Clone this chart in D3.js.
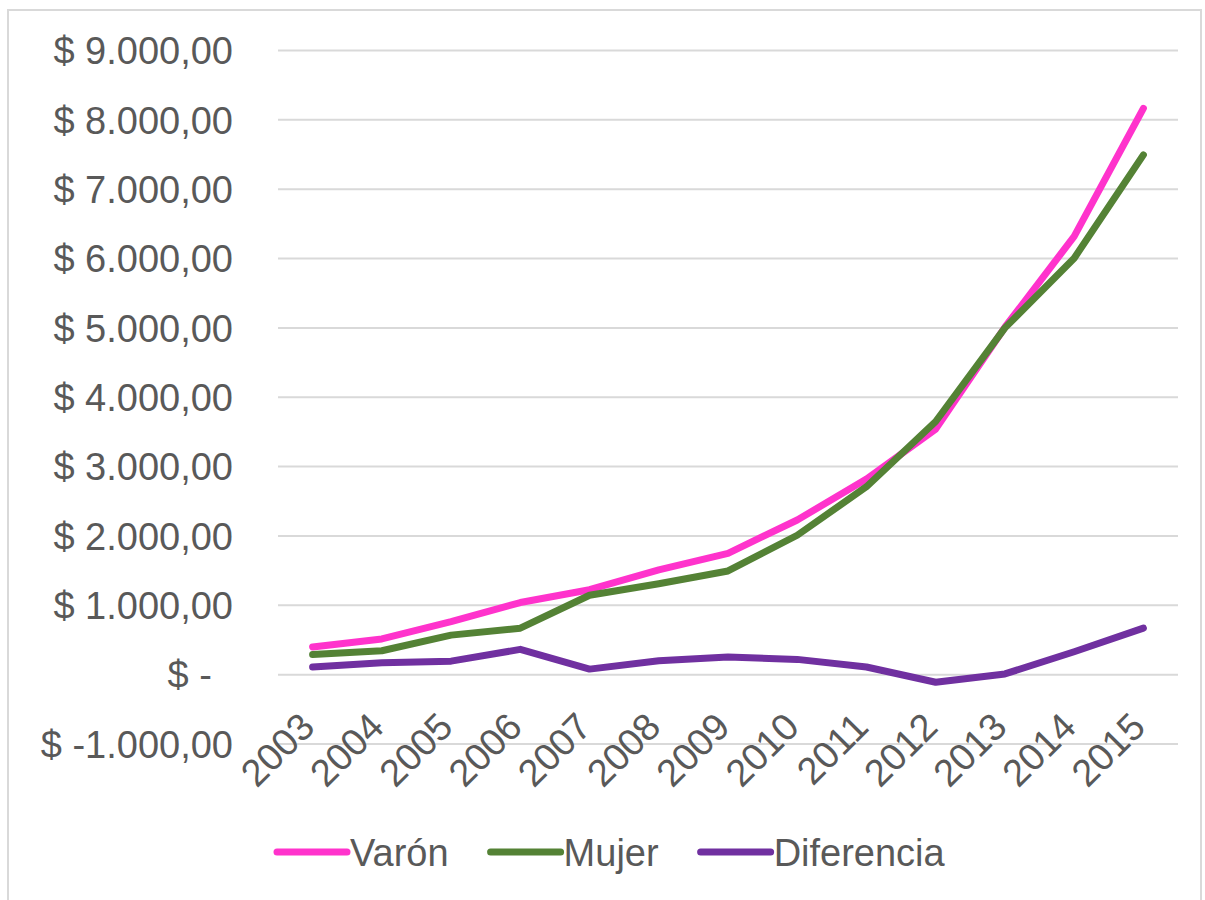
<!DOCTYPE html>
<html>
<head>
<meta charset="utf-8">
<script src="https://cdn.jsdelivr.net/npm/d3@7"></script>
<style>
  html, body { margin: 0; padding: 0; background: #fff; }
  svg text { font-family: "Liberation Sans", Arial, sans-serif; fill: #595959; }
</style>
</head>
<body>
<div id="chart"></div>
<script>
// Ingreso por género 2003–2015: Varón, Mujer y la diferencia entre ambos

const years      = ["2003","2004","2005","2006","2007","2008","2009","2010","2011","2012","2013","2014","2015"];
const varon      = [400, 515, 765, 1040, 1225, 1510, 1750, 2230, 2820, 3540, 5010, 6320, 8165];
const mujer      = [290, 345, 570, 670, 1145, 1310, 1495, 2010, 2710, 3650, 5000, 6005, 7495];
const diferencia = [110, 170, 195, 365, 80, 200, 255, 220, 110, -110, 10, 330, 670];
const yTicks     = [-1000, 0, 1000, 2000, 3000, 4000, 5000, 6000, 7000, 8000, 9000];

const seriesNames  = ["Varón", "Mujer", "Diferencia"];
const seriesValues = [varon, mujer, diferencia];
const seriesColors = ["#ff33cc", "#548235", "#7030a0"];

const width = 1205, height = 900;
const plot = { left: 278, right: 1178, top: 50.5, bottom: 744 };
const fontSize = "38px";

const svg = d3.select("#chart")
  .append("svg")
  .attr("width", width)
  .attr("height", height);

// light frame round the chart area
svg.append("rect")
  .attr("x", 8).attr("y", 10)
  .attr("width", 1193).attr("height", 900)
  .attr("fill", "none")
  .attr("stroke", "#d9d9d9")
  .attr("stroke-width", 2);

const x = d3.scaleBand()
  .domain(years)
  .range([plot.left, plot.right]);

const y = d3.scaleLinear()
  .domain([-1000, 9000])
  .range([plot.bottom, plot.top]);

const cx = d => x(d) + x.bandwidth() / 2;

// number format like "$ 9.000,00"
const locale = d3.formatLocale({ decimal: ",", thousands: ".", grouping: [3], currency: ["$ ", ""], minus: "-" });
const num = locale.format(",.2f");
const money = v => v === 0 ? "$ -  " : "$ " + num(v);

// GRIDLINES
svg.append("g")
  .selectAll("line")
  .data(yTicks)
  .join("line")
  .attr("x1", plot.left).attr("x2", plot.right)
  .attr("y1", d => y(d)).attr("y2", d => y(d))
  .attr("stroke", "#d9d9d9")
  .attr("stroke-width", 2);

// Y AXIS LABELS
svg.append("g")
  .selectAll("text")
  .data(yTicks)
  .join("text")
  .attr("x", 233)
  .attr("y", d => y(d))
  .attr("dy", "0.36em")
  .attr("text-anchor", "end")
  .style("font-size", fontSize)
  .style("white-space", "pre")
  .text(d => money(d));

// X AXIS LABELS (rotated)
svg.append("g")
  .selectAll("text")
  .data(years)
  .join("text")
  .attr("text-anchor", "end")
  .attr("transform", d => `translate(${cx(d) + 4},${729}) rotate(-45)`)
  .style("font-size", fontSize)
  .text(d => d);

// LINES
const line = d3.line()
  .x((d, i) => cx(years[i]))
  .y(d => y(d));

seriesValues.forEach((vals, k) => {
  svg.append("path")
    .datum(vals)
    .attr("d", line)
    .attr("fill", "none")
    .attr("stroke", seriesColors[k])
    .attr("stroke-width", 7)
    .attr("stroke-linejoin", "round")
    .attr("stroke-linecap", "round");
});

// LEGEND
const legendY = 852;
let lx = 277;
seriesNames.forEach((name, k) => {
  svg.append("line")
    .attr("x1", lx).attr("x2", lx + 70)
    .attr("y1", legendY).attr("y2", legendY)
    .attr("stroke", seriesColors[k])
    .attr("stroke-width", 7)
    .attr("stroke-linecap", "round");

  const t = svg.append("text")
    .attr("x", lx + 73)
    .attr("y", legendY)
    .attr("dy", "0.36em")
    .style("font-size", fontSize)
    .text(name);

  lx += 73 + t.node().getComputedTextLength() + 42;
});
</script>
</body>
</html>
